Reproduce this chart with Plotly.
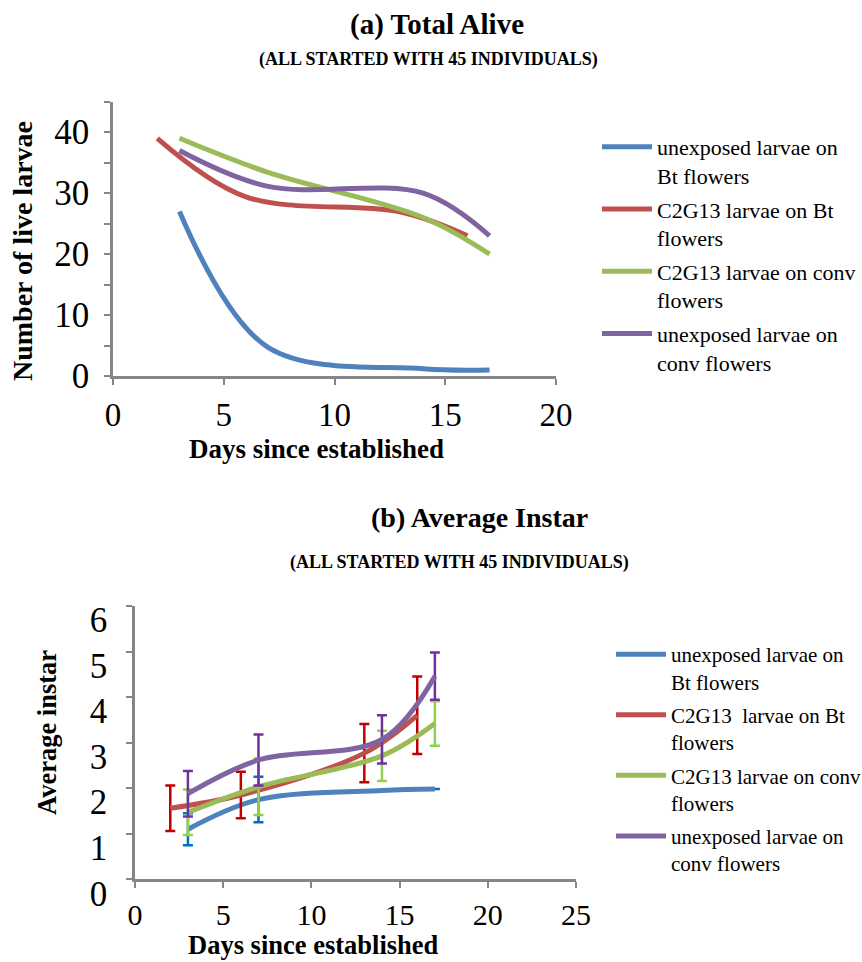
import plotly.graph_objects as go

W, H = 862, 962
FONT = "Times New Roman, Liberation Serif, Times, serif"

# ---------------- data ----------------
names_a = ["unexposed larvae on<br>Bt flowers",
           "C2G13 larvae on Bt<br>flowers",
           "C2G13 larvae on conv<br>flowers",
           "unexposed larvae on<br>conv flowers"]
names_b = ["unexposed larvae on<br>Bt flowers",
           "C2G13\u00a0 larvae on Bt<br>flowers",
           "C2G13 larvae on conv<br>flowers",
           "unexposed larvae on<br>conv flowers"]

days_red = [2, 6, 13, 16]
days_other = [3, 7, 14, 17]

alive_blue = [27, 4.7, 1.2, 1]
alive_red = [39, 29.4, 26.9, 23]
alive_green = [39, 33.4, 26, 20]
alive_purple = [37, 31.1, 30, 23]

instar_blue = [1.1, 1.75, 1.95, 1.98]
err_blue = [0.35, 0.5, 0, 0]
instar_red = [1.56, 1.85, 2.77, 3.6]
err_red = [0.5, 0.51, 0.64, 0.85]
instar_green = [1.47, 2.03, 2.71, 3.42]
err_green = [0.5, 0.62, 0.55, 0.49]
instar_purple = [1.88, 2.62, 3.07, 4.46]
err_purple = [0.5, 0.56, 0.53, 0.52]

x_ticks_a = [0, 5, 10, 15, 20]
y_ticks_a = [0, 10, 20, 30, 40]
x_ticks_b = [0, 5, 10, 15, 20, 25]
y_ticks_b = [0, 1, 2, 3, 4, 5, 6]

line_colors = ["#4F81BD", "#C0504D", "#9BBB59", "#8064A2"]
err_colors = ["#0070C0", "#C00000", "#92D050", "#7030A0"]

# ---------------- helpers ----------------
def px_x(p):
    return p / W

def px_y(p):
    return 1 - p / H

fig = go.Figure()

days_list = [days_other, days_red, days_other, days_other]
alive_list = [alive_blue, alive_red, alive_green, alive_purple]
instar_list = [instar_blue, instar_red, instar_green, instar_purple]
err_list = [err_blue, err_red, err_green, err_purple]

for i in range(4):
    fig.add_trace(go.Scatter(
        x=days_list[i], y=alive_list[i], mode="lines", name=names_a[i],
        line=dict(color=line_colors[i], width=5, shape="spline", smoothing=1.0),
        xaxis="x", yaxis="y", legend="legend", legendgroup="a%d" % i,
    ))

for i in range(4):
    fig.add_trace(go.Scatter(
        x=days_list[i], y=instar_list[i], mode="lines", name=names_b[i],
        line=dict(color=line_colors[i], width=5, shape="spline", smoothing=1.0),
        error_y=dict(type="data", array=err_list[i], visible=True,
                     color=err_colors[i], thickness=2.5, width=5),
        xaxis="x2", yaxis="y2", legend="legend2", legendgroup="b%d" % i,
    ))

axis_common = dict(
    showline=True, linecolor="#868686", linewidth=2.5,
    ticks="outside", tickcolor="#868686", tickwidth=2, ticklen=6,
    showgrid=False, zeroline=False, automargin=False,
)
xfont_a = dict(family=FONT, size=33, color="black")
xfont_b = dict(family=FONT, size=30, color="black")
yfont = dict(family=FONT, size=35, color="black")

fig.update_layout(
    width=W, height=H,
    margin=dict(l=0, r=0, t=0, b=0, autoexpand=False),
    paper_bgcolor="white", plot_bgcolor="white",
    font=dict(family=FONT, color="black"),
    xaxis=dict(domain=[px_x(113), px_x(556)], range=[0, 20], tickvals=x_ticks_a,
               anchor="y", ticklabelstandoff=2, tickfont=xfont_a, **axis_common),
    yaxis=dict(domain=[px_y(376), px_y(101.7)], range=[0, 45], tickvals=y_ticks_a,
               anchor="x", minor=dict(dtick=5, ticks="outside", ticklen=6,
                                      tickwidth=2, tickcolor="#868686"),
               ticklabelstandoff=8, tickfont=yfont, **axis_common),
    xaxis2=dict(domain=[px_x(135), px_x(576)], range=[0, 25], tickvals=x_ticks_b,
                anchor="y2", ticklabelstandoff=1, tickfont=xfont_b, **axis_common),
    yaxis2=dict(domain=[px_y(879.3), px_y(606)], range=[0, 6], tickvals=y_ticks_b,
                anchor="x2", ticklabelstandoff=12, ticklabelshift=14,
                tickfont=yfont, **axis_common),
    legend=dict(x=px_x(597), y=px_y(126), xanchor="left", yanchor="top",
                font=dict(family=FONT, size=22, color="black"), valign="top",
                itemwidth=50, tracegroupgap=2, traceorder="grouped",
                bgcolor="rgba(0,0,0,0)"),
    legend2=dict(x=px_x(611), y=px_y(634), xanchor="left", yanchor="top",
                 font=dict(family=FONT, size=21, color="black"), valign="top",
                 itemwidth=50, tracegroupgap=3, traceorder="grouped",
                 bgcolor="rgba(0,0,0,0)"),
    showlegend=True,
)

ann = [
    dict(text="<b>(a) Total Alive</b>", x=437, y=24, size=29),
    dict(text="<b>(ALL STARTED WITH 45 INDIVIDUALS)</b>", x=428, y=59, size=18),
    dict(text="<b>Days since established</b>", x=316, y=449, size=27),
    dict(text="<b>(b) Average Instar</b>", x=479, y=517, size=28),
    dict(text="<b>(ALL STARTED WITH 45 INDIVIDUALS)</b>", x=460, y=562, size=18),
    dict(text="<b>Days since established</b>", x=313, y=945, size=26.5),
]
for a in ann:
    fig.add_annotation(text=a["text"], x=px_x(a["x"]), y=px_y(a["y"]),
                       xref="paper", yref="paper", showarrow=False,
                       xanchor="center", yanchor="middle",
                       font=dict(family=FONT, size=a["size"], color="black"))

fig.add_annotation(text="<b>Number of live larvae</b>", x=px_x(23), y=px_y(251),
                   xref="paper", yref="paper", showarrow=False, textangle=-90,
                   xanchor="center", yanchor="middle",
                   font=dict(family=FONT, size=28, color="black"))
fig.add_annotation(text="<b>Average instar</b>", x=px_x(47), y=px_y(733),
                   xref="paper", yref="paper", showarrow=False, textangle=-90,
                   xanchor="center", yanchor="middle",
                   font=dict(family=FONT, size=26.5, color="black"))

fig.write_html("out.html")
